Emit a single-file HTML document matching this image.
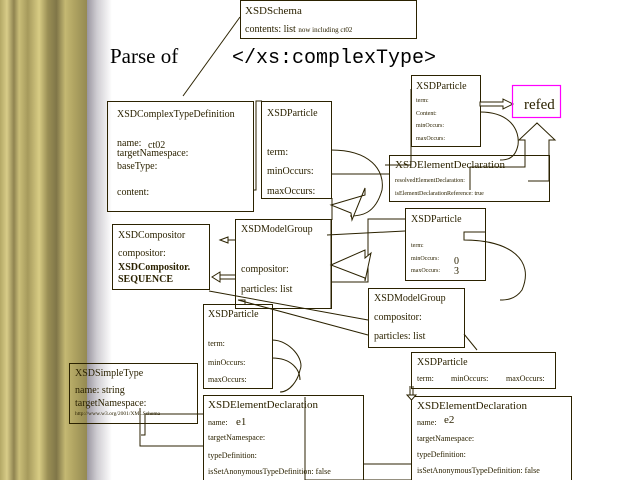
<!DOCTYPE html>
<html><head><meta charset="utf-8"><style>
html,body{margin:0;padding:0;background:#fff;width:640px;height:480px;overflow:hidden}
svg{display:block}
text{font-family:"Liberation Serif",serif;fill:#2b2200}
.m{font-family:"Liberation Mono",monospace;fill:#000}
</style></head><body>
<svg width="640" height="480" viewBox="0 0 640 480" xmlns="http://www.w3.org/2000/svg">
<defs>
<linearGradient id="g" x1="0" x2="1" y1="0" y2="0">
<stop offset="0" stop-color="#b3a866"/>
<stop offset="0.08" stop-color="#d8cc88"/>
<stop offset="0.16" stop-color="#8f8450"/>
<stop offset="0.22" stop-color="#c9bd78"/>
<stop offset="0.32" stop-color="#a69a5c"/>
<stop offset="0.45" stop-color="#d8cc84"/>
<stop offset="0.55" stop-color="#9a8f55"/>
<stop offset="0.65" stop-color="#807648"/>
<stop offset="0.75" stop-color="#c4b872"/>
<stop offset="0.85" stop-color="#b0a462"/>
<stop offset="1" stop-color="#958a52"/>
</linearGradient>
<linearGradient id="f" x1="0" x2="1" y1="0" y2="0">
<stop offset="0" stop-color="#9a96a0"/>
<stop offset="0.4" stop-color="#cfcdd2"/>
<stop offset="1" stop-color="#fff"/>
</linearGradient>
</defs>
<rect x="0" y="0" width="87" height="480" fill="url(#g)"/>
<rect x="87" y="0" width="25" height="480" fill="url(#f)"/>
<g fill="none" stroke="#2b2200" stroke-width="1">
<rect x="240.5" y="0.5" width="176" height="38"/>
<rect x="107.5" y="101.5" width="146" height="110"/>
<rect x="261.5" y="101.5" width="70" height="97"/>
<rect x="411.5" y="75.5" width="69" height="71"/>
<rect x="389.5" y="155.5" width="160" height="46"/>
<rect x="112.5" y="224.5" width="97" height="65"/>
<rect x="235.5" y="219.5" width="96" height="89"/>
<rect x="405.5" y="208.5" width="80" height="72"/>
<rect x="368.5" y="288.5" width="96" height="59"/>
<rect x="203.5" y="304.5" width="69" height="84"/>
<rect x="69.5" y="363.5" width="128" height="60"/>
<rect x="203.5" y="395.5" width="160" height="85"/>
<rect x="411.5" y="352.5" width="144" height="36"/>
<rect x="411.5" y="396.5" width="160" height="84"/>
<!-- connectors -->
<path d="M240 17 L183 96"/>
<path d="M253 190 L256 190 L256 101 L262 101"/>
<path d="M331 150 C370 150 385 170 382 190 C375 215 360 216 350 216"/>
<path d="M331 174 L389 174"/>
<path d="M332 198 L332 220"/>
<path d="M331 308 L331 219"/>
<path d="M331 282 L368 282 L368 219 L405 219"/>
<path d="M480 112 C510 112 520 130 518 145 C515 160 505 160 500 160"/>
<path d="M411 89 L411 165 L385 165"/>
<path d="M470 190 L470 167 L525 167 L525 140 L519 140 L537 123 L555 140 L549 140 L549 181 L528 181"/>
<path d="M485 232 L464 232 L464 240 C510 240 535 260 522 290 C515 300 505 300 500 300"/>
<path d="M209 291 L368 320"/>
<path d="M245 304 L245 300 L238 300 L368 335"/>
<path d="M464 334 L477 350"/>
<path d="M272 340 C290 340 305 360 300 370 C298 380 290 392 280 392"/>
<path d="M272 358 C292 358 300 370 300 380"/>
<path d="M203 414 L145 414 L145 435 L141 435"/>
<path d="M203 446 L140 446 L140 408"/>
<path d="M305 397 L305 480 L411 480"/>
<path d="M363 464 L411 464"/>
<!-- hollow arrows -->
<path d="M331 205 L365 195 L365 188 L352 220 L351 213 L331 205Z" fill="#fff"/>
<path d="M331 265 L365 250 L365 258 L371 253 L365 281 L365 278 L331 265Z" fill="#fff"/>
<path d="M480 102 L503 102 L503 99 L513 104 L503 109 L503 106 L480 106Z" fill="#fff"/>
<path d="M405 231 L327 235"/>
<path d="M220 240 L235 240"/>
<path d="M220 240 L228 237 L228 243Z" fill="#fff"/>
<path d="M410 386 L410 395 M413 386 L413 395"/>
<path d="M407 395 L416 395 L411.5 400Z" fill="#fff"/>
<path d="M235 275 L220 275 M235 279 L220 279 M220 272 L212 277 L220 282Z" fill="#fff"/>
</g>
<rect x="512.5" y="85.5" width="48" height="32" fill="none" stroke="#f0f" stroke-width="1.2"/>
<text x="524" y="109" font-size="15">refed</text>
<text x="110" y="63" font-size="21" style="fill:#000">Parse of</text>
<text x="232" y="63" font-size="20" class="m">&lt;/xs:complexType&gt;</text>
<g font-size="10">
<text x="245" y="14" font-size="11">XSDSchema</text>
<text x="245" y="32">contents: list <tspan font-size="7">now including ct02</tspan></text>
<text x="117" y="117">XSDComplexTypeDefinition</text>
<text x="117" y="146">name:</text><text x="148" y="148">ct02</text>
<text x="117" y="156">targetNamespace:</text>
<text x="117" y="169">baseType:</text>
<text x="117" y="195">content:</text>
<text x="267" y="116">XSDParticle</text>
<text x="267" y="155">term:</text>
<text x="267" y="174">minOccurs:</text>
<text x="267" y="194">maxOccurs:</text>
<text x="416" y="89" font-size="10">XSDParticle</text>
<text x="416" y="102" font-size="6">term:</text>
<text x="416" y="115" font-size="6">Content:</text>
<text x="416" y="127" font-size="6">minOccurs:</text>
<text x="416" y="140" font-size="6">maxOccurs:</text>
<text x="395" y="168" font-size="11">XSDElementDeclaration</text>
<text x="395" y="182" font-size="6">resolvedElementDeclaration:</text>
<text x="395" y="195" font-size="6">isElementDeclarationReference: true</text>
<text x="118" y="238">XSDCompositor</text>
<text x="118" y="256">compositor:</text>
<text x="118" y="270" font-weight="bold">XSDCompositor.</text>
<text x="118" y="282" font-weight="bold">SEQUENCE</text>
<text x="241" y="232">XSDModelGroup</text>
<text x="241" y="272">compositor:</text>
<text x="241" y="292">particles: list</text>
<text x="411" y="222">XSDParticle</text>
<text x="411" y="247" font-size="6">term:</text>
<text x="411" y="260" font-size="6">minOccurs:</text><text x="454" y="264">0</text>
<text x="411" y="272" font-size="6">maxOccurs:</text><text x="454" y="274">3</text>
<text x="374" y="301">XSDModelGroup</text>
<text x="374" y="320">compositor:</text>
<text x="374" y="339">particles: list</text>
<text x="208" y="317">XSDParticle</text>
<text x="208" y="346" font-size="8">term:</text>
<text x="208" y="365" font-size="8">minOccurs:</text>
<text x="208" y="382" font-size="8">maxOccurs:</text>
<text x="75" y="376">XSDSimpleType</text>
<text x="75" y="393">name: string</text>
<text x="75" y="406">targetNamespace:</text>
<text x="75" y="415" font-size="5.5">http://www.w3.org/2001/XMLSchema</text>
<text x="208" y="408" font-size="11">XSDElementDeclaration</text>
<text x="208" y="425" font-size="8">name:</text><text x="236" y="425" font-size="11">e1</text>
<text x="208" y="440" font-size="8">targetNamespace:</text>
<text x="208" y="458" font-size="8">typeDefinition:</text>
<text x="208" y="474" font-size="8">isSetAnonymousTypeDefinition: false</text>
<text x="417" y="365">XSDParticle</text>
<text x="417" y="381" font-size="8">term:</text>
<text x="451" y="381" font-size="8">minOccurs:</text>
<text x="506" y="381" font-size="8">maxOccurs:</text>
<text x="417" y="409" font-size="11">XSDElementDeclaration</text>
<text x="417" y="425" font-size="8">name:</text><text x="444" y="423" font-size="11">e2</text>
<text x="417" y="441" font-size="8">targetNamespace:</text>
<text x="417" y="457" font-size="8">typeDefinition:</text>
<text x="417" y="473" font-size="8">isSetAnonymousTypeDefinition: false</text>
</g>
</svg>
</body></html>
